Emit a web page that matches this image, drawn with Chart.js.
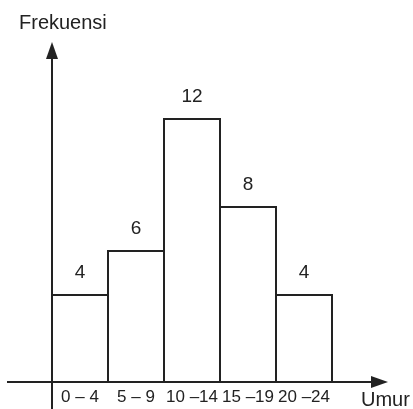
<!DOCTYPE html>
<html>
<head>
<meta charset="utf-8">
<script src="https://cdn.jsdelivr.net/npm/chart.js@4"></script>
<style>
  body { margin: 0; background: #fff; }
  canvas { display: block; }
</style>
</head>
<body>
<canvas id="histogram" width="413" height="409"></canvas>
<script>
const ageGroups = ['0 – 4', '5 – 9', '10 –14', '15 –19', '20 –24'];
const classMids = [2, 7, 12, 17, 22];
const frequencies = [4, 6, 12, 8, 4];

const ink = '#222222';
const font = 'Liberation Sans, Arial, sans-serif';

// axes with arrows, axis titles and the value above every bar
const histogramDecor = {
    id: 'histogramDecor',
    afterDatasetsDraw(chart) {
        const ctx = chart.ctx;
        const area = chart.chartArea;
        const x0 = area.left;
        const y0 = area.bottom;

        ctx.save();
        ctx.strokeStyle = ink;
        ctx.fillStyle = ink;
        ctx.lineWidth = 2;

        ctx.beginPath();
        ctx.moveTo(x0, 409);
        ctx.lineTo(x0, 55);
        ctx.moveTo(7, y0);
        ctx.lineTo(375, y0);
        ctx.stroke();

        ctx.beginPath();
        ctx.moveTo(x0, 42);
        ctx.lineTo(x0 - 6, 59);
        ctx.lineTo(x0 + 6, 59);
        ctx.closePath();
        ctx.fill();

        ctx.beginPath();
        ctx.moveTo(388, y0);
        ctx.lineTo(371, y0 - 6);
        ctx.lineTo(371, y0 + 6);
        ctx.closePath();
        ctx.fill();

        ctx.font = '20px ' + font;
        ctx.textBaseline = 'middle';
        ctx.textAlign = 'left';
        ctx.fillText('Frekuensi', 19, 23);
        ctx.fillText('Umur', 361, 400);

        ctx.font = '19px ' + font;
        ctx.textAlign = 'center';
        chart.getDatasetMeta(0).data.forEach((bar, i) => {
            ctx.fillText(String(frequencies[i]), bar.x, bar.y - 21);
        });
        ctx.restore();
    }
};

new Chart(document.getElementById('histogram'), {
    type: 'bar',
    data: {
        datasets: [{
            data: classMids.map((x, i) => ({ x: x, y: frequencies[i] })),
            backgroundColor: '#ffffff',
            borderColor: ink,
            borderWidth: 2,
            barPercentage: 58 / 56,
            categoryPercentage: 1
        }]
    },
    options: {
        responsive: false,
        animation: false,
        layout: { padding: { left: 52, right: 25, top: 52, bottom: 0 } },
        plugins: {
            legend: { display: false },
            tooltip: { enabled: false }
        },
        scales: {
            x: {
                type: 'linear',
                offset: false,
                min: -0.5,
                max: 29.5,
                afterBuildTicks: scale => {
                    scale.ticks = classMids.map(v => ({ value: v }));
                },
                afterFit: scale => {
                    scale.height = 27;
                },
                grid: { display: false, drawTicks: false },
                border: { display: false },
                ticks: {
                    padding: 5,
                    color: ink,
                    font: { family: font, size: 17 },
                    maxRotation: 0,
                    autoSkip: false,
                    callback: (value, index) => ageGroups[index]
                }
            },
            y: {
                display: false,
                min: 0,
                max: 15
            }
        }
    },
    plugins: [histogramDecor]
});
</script>
</body>
</html>
